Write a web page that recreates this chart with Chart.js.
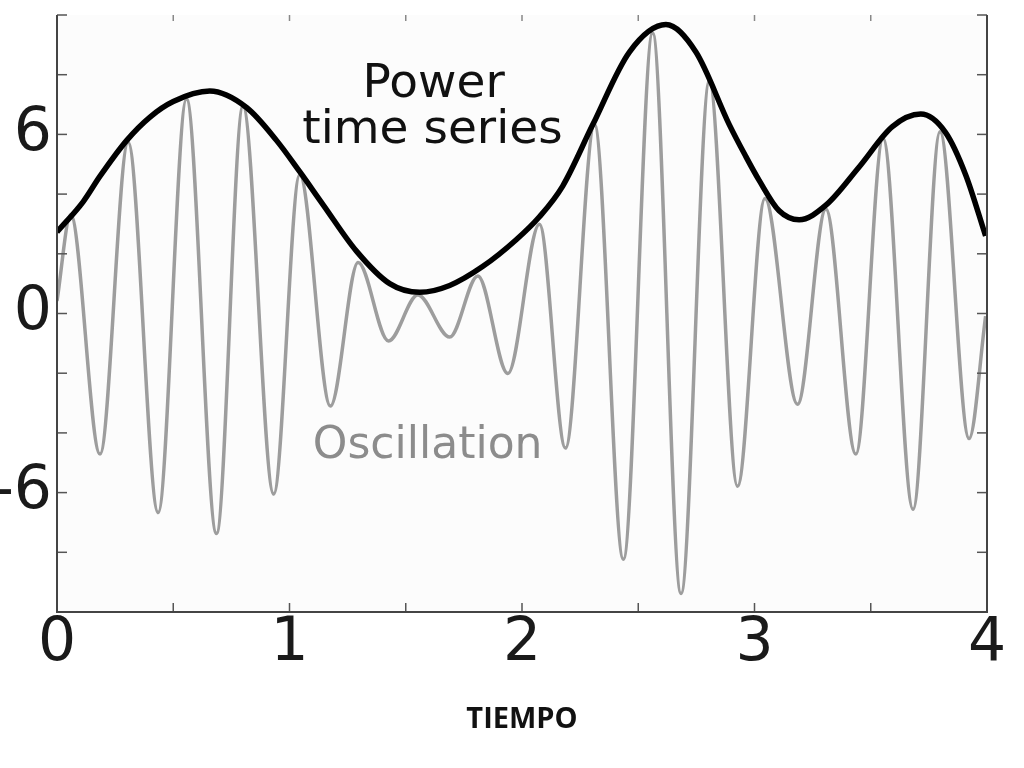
<!DOCTYPE html>
<html><head><meta charset="utf-8">
<script src="https://cdn.jsdelivr.net/npm/chart.js@4.4.1/dist/chart.umd.min.js"></script>
<style>html,body{margin:0;padding:0;background:#fff;}#wrap{width:1024px;height:768px;}</style>
</head><body><div id="wrap"><canvas id="c" width="1024" height="768"></canvas></div>
<script>
// ---- data ----
const oscX = [0, 0.059, 0.185, 0.306, 0.435, 0.557, 0.686, 0.800, 0.932, 1.044, 1.176, 1.295, 1.426, 1.552, 1.689, 1.810, 1.939, 2.075, 2.187, 2.312, 2.436, 2.562, 2.684, 2.806, 2.927, 3.045, 3.185, 3.307, 3.436, 3.553, 3.682, 3.798, 3.923, 3.994];
const oscY = [0.42, 3.31, -4.71, 5.74, -6.67, 7.19, -7.37, 6.94, -6.05, 4.65, -3.10, 1.71, -0.92, 0.62, -0.79, 1.26, -2.01, 2.99, -4.51, 6.32, -8.23, 9.40, -9.38, 7.79, -5.79, 3.85, -3.04, 3.50, -4.71, 5.87, -6.56, 6.09, -4.19, -0.09];
const powX = [0, 0.113, 0.185, 0.30, 0.40, 0.500, 0.657, 0.815, 0.944, 1.044, 1.144, 1.288, 1.431, 1.56, 1.689, 1.832, 1.975, 2.075, 2.175, 2.304, 2.462, 2.619, 2.748, 2.892, 2.960, 3.020, 3.106, 3.192, 3.307, 3.450, 3.593, 3.715, 3.822, 3.908, 3.994];
const powY = [2.73, 3.75, 4.60, 5.80, 6.58, 7.10, 7.45, 6.90, 5.80, 4.75, 3.65, 2.09, 1.00, 0.71, 0.94, 1.58, 2.47, 3.24, 4.27, 6.32, 8.76, 9.68, 8.76, 6.32, 5.30, 4.46, 3.44, 3.14, 3.63, 4.91, 6.26, 6.68, 6.06, 4.65, 2.60];
const xTickLabels = ['0', '1', '2', '3', '4'];
const yTickLabels = ['-6', '0', '6'];
const xTitle = 'TIEMPO';
const powerText = ['Power', 'time series'];
const oscText = 'Oscillation';

const toPts = (xs, ys) => xs.map((v, i) => ({x: v, y: ys[i]}));

const framePlugin = {
  id: 'frame',
  beforeDatasetsDraw(chart) {
    const {ctx, chartArea: a} = chart;
    ctx.save();
    ctx.fillStyle = '#fcfcfc';
    ctx.fillRect(a.left, a.top, a.right - a.left, a.bottom - a.top);
    ctx.restore();
  },
  afterDatasetsDraw(chart) {
    const {ctx, chartArea: a, scales: {x, y}} = chart;
    ctx.save();
    const seg = (x1, y1, x2, y2) => { ctx.beginPath(); ctx.moveTo(x1, y1); ctx.lineTo(x2, y2); ctx.stroke(); };
    ctx.strokeStyle = '#555'; ctx.lineWidth = 1.5;
    x.ticks.forEach(t => {
      const px = x.getPixelForValue(t.value);
      seg(px, a.bottom, px, a.bottom - 9);
      ctx.strokeStyle = '#888';
      seg(px, a.top, px, a.top + 6);
      ctx.strokeStyle = '#555';
    });
    y.ticks.forEach(t => {
      const py = y.getPixelForValue(t.value);
      seg(a.left, py, a.left + 10, py);
      seg(a.right, py, a.right - 10, py);
    });
    ctx.strokeStyle = '#444'; ctx.lineWidth = 2;
    ctx.beginPath();
    ctx.moveTo(a.left, a.top); ctx.lineTo(a.left, a.bottom);
    ctx.lineTo(a.right, a.bottom); ctx.lineTo(a.right, a.top);
    ctx.stroke();
    // annotations
    ctx.textAlign = 'center'; ctx.textBaseline = 'alphabetic';
    ctx.fillStyle = '#111';
    ctx.font = '47px "DejaVu Sans"';
    ctx.fillText(powerText[0], x.getPixelForValue(1.62), y.getPixelForValue(7.25));
    ctx.fillText(powerText[1], x.getPixelForValue(1.615), y.getPixelForValue(5.71));
    ctx.fillStyle = '#8c8c8c';
    ctx.font = '44px "DejaVu Sans"';
    ctx.fillText(oscText, x.getPixelForValue(1.594), y.getPixelForValue(-4.84));
    ctx.restore();
  }
};

new Chart(document.getElementById('c'), {
  type: 'line',
  data: {
    datasets: [
      {label: 'Power time series', data: toPts(powX, powY), borderColor: '#000', borderWidth: 5.5, pointRadius: 0, cubicInterpolationMode: 'monotone', fill: false},
      {label: 'Oscillation', data: toPts(oscX, oscY), borderColor: '#9d9d9d', borderWidth: 3.5, pointRadius: 0, cubicInterpolationMode: 'monotone', fill: false}
    ]
  },
  options: {
    responsive: false,
    animation: false,
    events: [],
    layout: {padding: {top: 15, right: 37, left: 0, bottom: 0}},
    plugins: {legend: {display: false}, tooltip: {enabled: false}},
    scales: {
      x: {
        type: 'linear', position: 'bottom', min: 0, max: 4,
        ticks: {stepSize: 0.5, autoSkip: false, maxRotation: 0, padding: 2, color: '#1a1a1a',
          font: {family: 'DejaVu Sans', size: 60, lineHeight: 1},
          callback: v => Number.isInteger(v) ? xTickLabels[v] : ''},
        grid: {display: false, drawTicks: false},
        border: {display: false},
        title: {display: true, text: xTitle, color: '#111',
          font: {family: 'Open Sans', weight: 'bold', size: 29, lineHeight: 1.2},
          padding: {top: 0, bottom: 31}},
        afterFit(s) { s.height = 156; s.paddingLeft = 0; s.paddingRight = 0; }
      },
      y: {
        type: 'linear', position: 'left', min: -10, max: 10,
        ticks: {stepSize: 2, autoSkip: false, padding: 5, color: '#1a1a1a',
          font: {family: 'DejaVu Sans', size: 60, lineHeight: 1},
          callback: v => yTickLabels.includes(String(v)) ? String(v) : ''},
        grid: {display: false, drawTicks: false},
        border: {display: false},
        afterFit(s) { s.width = 57; s.paddingTop = 0; s.paddingBottom = 0; }
      }
    }
  },
  plugins: [framePlugin]
});
</script>
</body></html>
